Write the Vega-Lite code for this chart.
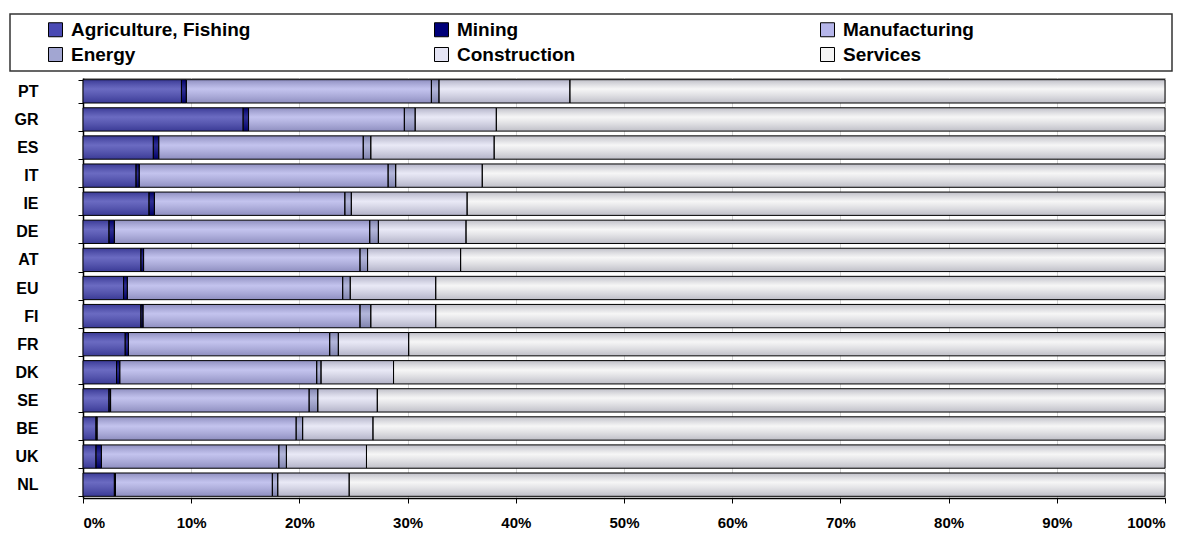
{
  "$schema": "https://vega.github.io/schema/vega-lite/v6.json",
  "autosize": {"type": "none"},
  "width": 1082,
  "height": 420,
  "padding": {"left": 83, "top": 78, "right": 35, "bottom": 37},
  "background": "white",
  "config": {
    "view": {"stroke": "#999999", "strokeWidth": 1},
    "font": "Liberation Sans",
    "legend": {"strokeColor": "#333333", "strokeWidth": 1.5}
  },
  "data": {
    "values": [
      {"country": "PT", "Agriculture, Fishing": 9.1, "Mining": 0.45, "Manufacturing": 22.65, "Energy": 0.7, "Construction": 12.1, "Services": 55.0},
      {"country": "GR", "Agriculture, Fishing": 14.8, "Mining": 0.5, "Manufacturing": 14.4, "Energy": 1.0, "Construction": 7.5, "Services": 61.8},
      {"country": "ES", "Agriculture, Fishing": 6.5, "Mining": 0.5, "Manufacturing": 18.9, "Energy": 0.7, "Construction": 11.4, "Services": 62.0},
      {"country": "IT", "Agriculture, Fishing": 4.9, "Mining": 0.3, "Manufacturing": 23.0, "Energy": 0.7, "Construction": 8.0, "Services": 63.1},
      {"country": "IE", "Agriculture, Fishing": 6.1, "Mining": 0.5, "Manufacturing": 17.6, "Energy": 0.6, "Construction": 10.7, "Services": 64.5},
      {"country": "DE", "Agriculture, Fishing": 2.4, "Mining": 0.5, "Manufacturing": 23.6, "Energy": 0.8, "Construction": 8.1, "Services": 64.6},
      {"country": "AT", "Agriculture, Fishing": 5.35, "Mining": 0.25, "Manufacturing": 20.0, "Energy": 0.7, "Construction": 8.6, "Services": 65.1},
      {"country": "EU", "Agriculture, Fishing": 3.75, "Mining": 0.35, "Manufacturing": 19.9, "Energy": 0.7, "Construction": 7.9, "Services": 67.4},
      {"country": "FI", "Agriculture, Fishing": 5.35, "Mining": 0.2, "Manufacturing": 20.05, "Energy": 1.0, "Construction": 6.0, "Services": 67.4},
      {"country": "FR", "Agriculture, Fishing": 3.9, "Mining": 0.3, "Manufacturing": 18.6, "Energy": 0.8, "Construction": 6.5, "Services": 69.9},
      {"country": "DK", "Agriculture, Fishing": 3.1, "Mining": 0.3, "Manufacturing": 18.2, "Energy": 0.4, "Construction": 6.7, "Services": 71.3},
      {"country": "SE", "Agriculture, Fishing": 2.4, "Mining": 0.15, "Manufacturing": 18.35, "Energy": 0.8, "Construction": 5.5, "Services": 72.8},
      {"country": "BE", "Agriculture, Fishing": 1.2, "Mining": 0.1, "Manufacturing": 18.4, "Energy": 0.6, "Construction": 6.5, "Services": 73.2},
      {"country": "UK", "Agriculture, Fishing": 1.2, "Mining": 0.5, "Manufacturing": 16.4, "Energy": 0.7, "Construction": 7.4, "Services": 73.8},
      {"country": "NL", "Agriculture, Fishing": 2.9, "Mining": 0.1, "Manufacturing": 14.5, "Energy": 0.5, "Construction": 6.6, "Services": 75.4}
    ]
  },
  "transform": [
    {"fold": ["Agriculture, Fishing", "Mining", "Manufacturing", "Energy", "Construction", "Services"], "as": ["sector", "share"]},
    {"calculate": "indexof(['Agriculture, Fishing','Mining','Manufacturing','Energy','Construction','Services'], datum.sector)", "as": "rank"}
  ],
  "encoding": {
    "y": {
      "field": "country",
      "type": "nominal",
      "sort": ["PT", "GR", "ES", "IT", "IE", "DE", "AT", "EU", "FI", "FR", "DK", "SE", "BE", "UK", "NL"],
      "scale": {"paddingInner": 0.17, "paddingOuter": 0.06},
      "axis": {
        "title": null,
        "domainColor": "#000000",
        "domainWidth": 1.5,
        "tickColor": "#000000",
        "tickSize": 5,
        "tickBand": "extent",
        "labelFont": "Liberation Sans",
        "labelFontSize": 16,
        "labelFontWeight": "bold",
        "labelColor": "#000000",
        "labelPadding": 40
      }
    },
    "x": {
      "field": "share",
      "type": "quantitative",
      "stack": "normalize",
      "scale": {"domain": [0, 1], "nice": false},
      "axis": {
        "title": null,
        "values": [0, 0.1, 0.2, 0.3, 0.4, 0.5, 0.6, 0.7, 0.8, 0.9, 1],
        "format": ".0%",
        "domainColor": "#000000",
        "domainWidth": 1.5,
        "tickColor": "#000000",
        "tickSize": 5,
        "grid": true,
        "gridColor": "#d4d4d4",
        "labelFont": "Liberation Sans",
        "labelFontSize": 15,
        "labelFontWeight": "bold",
        "labelColor": "#000000",
        "labelPadding": 12
      }
    },
    "order": {"field": "rank", "type": "quantitative"}
  },
  "layer": [
    {
      "mark": {"type": "bar", "strokeWidth": 0},
      "encoding": {
        "color": {
          "field": "sector",
          "type": "nominal",
          "sort": ["Agriculture, Fishing", "Mining", "Manufacturing", "Energy", "Construction", "Services"],
          "scale": {
            "domain": ["Agriculture, Fishing", "Mining", "Manufacturing", "Energy", "Construction", "Services"],
            "range": ["#4a4ab4", "#00007a", "#b6b6ea", "#a2a6d2", "#e4e4f4", "#f4f4f4"]
          },
          "legend": {
            "orient": "none",
            "legendX": -73,
            "legendY": -64,
            "direction": "horizontal",
            "columns": 3,
            "gridAlign": "all",
            "columnPadding": 151,
            "rowPadding": 5,
            "padding": 6,
            "title": " ",
            "titleOrient": "right",
            "titleFontSize": 10,
            "titlePadding": 192,
            "fillColor": "#ffffff",
            "symbolType": "square",
            "symbolSize": 196,
            "symbolOffset": 30,
            "symbolStrokeColor": "#000000",
            "symbolStrokeWidth": 1,
            "symbolOpacity": 1,
            "labelOffset": 6,
            "labelFont": "Liberation Sans",
            "labelFontSize": 19,
            "labelFontWeight": "bold",
            "labelColor": "#000000",
            "labelLimit": 0
          }
        }
      }
    },
    {
      "mark": {
        "type": "bar",
        "stroke": "#000000",
        "strokeWidth": 1,
        "fill": {"gradient": "linear", "x1": 0, "y1": 0, "x2": 0, "y2": 1, "stops": [
          {"offset": 0, "color": "rgba(0,0,40,0.22)"},
          {"offset": 0.4, "color": "rgba(255,255,255,0.18)"},
          {"offset": 1, "color": "rgba(0,0,40,0.22)"}
        ]}
      }
    }
  ]
}
